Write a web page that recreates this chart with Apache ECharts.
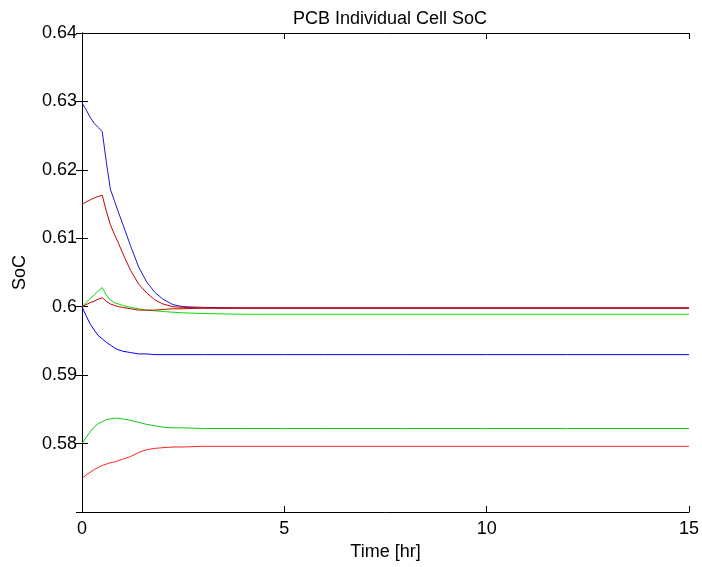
<!DOCTYPE html>
<html><head><meta charset="utf-8">
<script src="https://cdn.jsdelivr.net/npm/echarts@6/dist/echarts.min.js"></script>
<style>html,body{margin:0;padding:0;background:#fff}#c{width:702px;height:567px}</style>
</head><body><div id="c"></div>
<script>
const time = [0,0.1,0.2,0.3,0.4,0.5,0.6,0.7,0.8,0.9,1.0,1.2,1.4,1.6,1.8,2.0,2.25,2.5,3,4,5,6,8,10,12,15];
const blueTop = [0.6298,0.6288,0.6277,0.6268,0.6262,0.6256,0.6212,0.6172,0.6155,0.6138,0.6122,0.6089,0.6058,0.6036,0.6021,0.6011,0.6003,0.6000,0.5999,0.5998,0.5998,0.5998,0.5998,0.5998,0.5998,0.5998];
const blueMid = [0.6000,0.5987,0.5975,0.5966,0.5958,0.5953,0.5948,0.5944,0.5940,0.5937,0.5935,0.5933,0.5931,0.5931,0.5930,0.5930,0.5930,0.5930,0.5930,0.5930,0.5930,0.5930,0.5930,0.5930,0.5930,0.5930];
const greenTop = [0.6000,0.6006,0.6012,0.6017,0.6023,0.6028,0.6017,0.6010,0.6006,0.6004,0.6002,0.5999,0.5997,0.5995,0.5994,0.5993,0.5992,0.5991,0.5990,0.5989,0.5989,0.5989,0.5989,0.5989,0.5989,0.5989];
const greenLow = [0.5800,0.5809,0.5817,0.5824,0.5829,0.5832,0.5835,0.5836,0.5837,0.5837,0.5836,0.5834,0.5831,0.5828,0.5826,0.5824,0.5823,0.5823,0.5822,0.5822,0.5822,0.5822,0.5822,0.5822,0.5822,0.5822];
const redTop = [0.6149,0.6153,0.6156,0.6159,0.6161,0.6163,0.6140,0.6120,0.6106,0.6093,0.6079,0.6053,0.6033,0.6020,0.6010,0.6004,0.6000,0.5999,0.5998,0.5998,0.5998,0.5998,0.5998,0.5998,0.5998,0.5998];
const redMid = [0.6000,0.6003,0.6006,0.6008,0.6011,0.6013,0.6008,0.6004,0.6002,0.6000,0.5999,0.5997,0.5995,0.5995,0.5995,0.5996,0.5997,0.5997,0.5998,0.5998,0.5998,0.5998,0.5998,0.5998,0.5998,0.5998];
const redLow = [0.5749,0.5754,0.5758,0.5762,0.5765,0.5768,0.5770,0.5772,0.5773,0.5775,0.5777,0.5781,0.5787,0.5791,0.5793,0.5794,0.5795,0.5795,0.5796,0.5796,0.5796,0.5796,0.5796,0.5796,0.5796,0.5796];
const xTicks = [0,5,10,15];
const yTicks = [0.58,0.59,0.6,0.61,0.62,0.63,0.64];

const seriesDefs = [
  {name:'blueTop', data: blueTop, color:'#1a1acc'},
  {name:'blueMid', data: blueMid, color:'#0000ff'},
  {name:'greenTop', data: greenTop, color:'#00e000'},
  {name:'greenLow', data: greenLow, color:'#10c810'},
  {name:'redTop', data: redTop, color:'#cc0000'},
  {name:'redMid', data: redMid, color:'#cc0000'},
  {name:'redLow', data: redLow, color:'#ff2020'}
];
const font = 'Liberation Sans, Arial, Helvetica, sans-serif';
const chart = echarts.init(document.getElementById('c'), null, {renderer:'canvas'});
const axisCommon = {
  axisLine:{show:true, lineStyle:{color:'#000', width:1}},
  axisTick:{show:true, inside:true, length:6, lineStyle:{color:'#000'}},
  splitLine:{show:false}
};
chart.setOption({
  animation:false,
  backgroundColor:'#fff',
  title:{text:'PCB Individual Cell SoC', left:385, top:5, textAlign:'center',
    textStyle:{fontFamily:font, fontSize:18, fontWeight:'normal', color:'#000'}},
  grid:{left:82, right:12, top:33, bottom:55, show:false},
  xAxis:[
    Object.assign({type:'value', min:0, max:15, interval:5, position:'bottom',
      name:'Time [hr]', nameLocation:'middle', nameGap:29,
      nameTextStyle:{fontFamily:font, fontSize:18, color:'#000'},
      axisLabel:{fontFamily:font, fontSize:18, color:'#000', margin:8,
        formatter:v => xTicks.includes(v) ? String(v) : ''}}, axisCommon),
    Object.assign({type:'value', min:0, max:15, interval:5, position:'top',
      axisLabel:{show:false}}, axisCommon)
  ],
  yAxis:[
    Object.assign({type:'value', min:0.57, max:0.64, interval:0.01, position:'left',
      name:'SoC', nameLocation:'middle', nameGap:53, nameRotate:90,
      nameTextStyle:{fontFamily:font, fontSize:18, color:'#000'},
      axisLabel:{fontFamily:font, fontSize:18, color:'#000', margin:5, showMinLabel:false,
        formatter:v => { const r = +v.toFixed(2); return yTicks.includes(r) ? String(r) : ''; }}}, axisCommon),
    Object.assign({type:'value', min:0.57, max:0.64, interval:0.01, position:'right',
      axisLabel:{show:false}}, axisCommon)
  ],
  series: seriesDefs.map(s => ({
    name:s.name, type:'line', xAxisIndex:0, yAxisIndex:0,
    data: time.map((t,i) => [t, s.data[i]]),
    showSymbol:false, symbol:'none',
    lineStyle:{color:s.color, width:1},
    itemStyle:{color:s.color}
  }))
});
</script></body></html>
